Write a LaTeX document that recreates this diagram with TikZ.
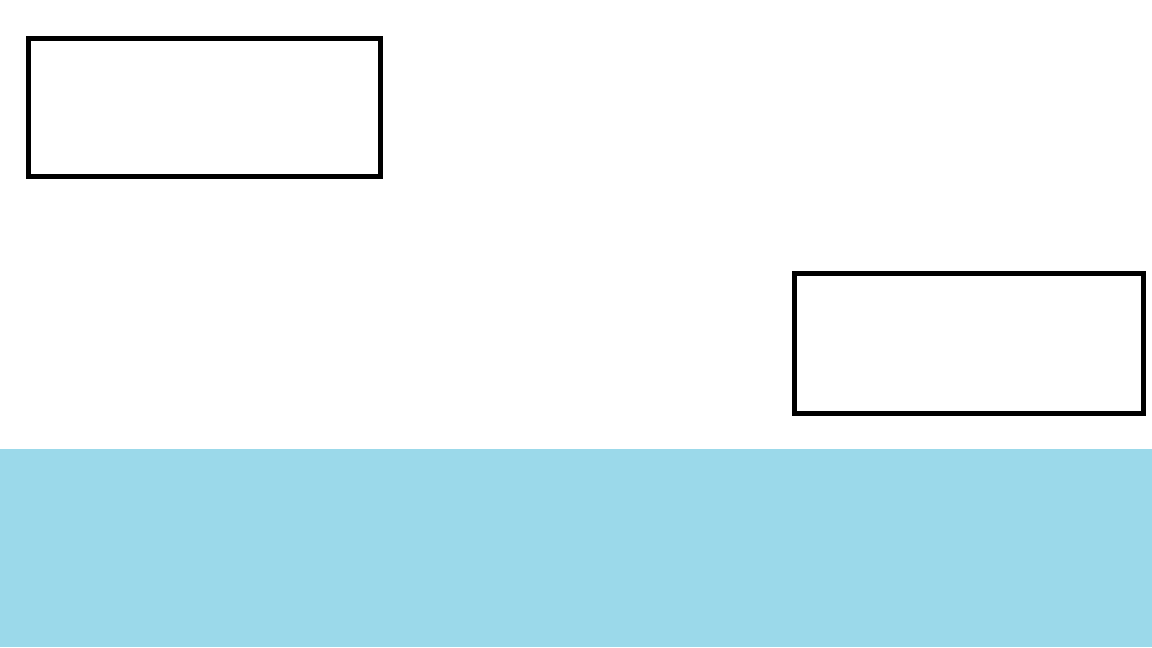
\documentclass[tikz,border=0pt]{standalone}
\usepackage[HTML]{xcolor}
\usepackage{tikz}
\usetikzlibrary{positioning}

\definecolor{bandblue}{HTML}{9BD9EA}

\begin{document}
\begin{tikzpicture}[
    x=0.025cm, y=-0.025cm, % one unit is one pixel of the reference
    every node/.style={inner sep=0pt, outer sep=0pt},
    panel/.style={draw=black, line width=3.4pt, fill=white, rectangle}
]
    % 1. Canvas
    \useasboundingbox (0,0) rectangle (1152,648);

    % 2. The two boxes
    \node[panel, minimum width=8.8cm, minimum height=3.45cm] (TopBox) at (204.5,107.5) {};
    \node[panel, minimum width=8.72cm, minimum height=3.49cm] (RightBox) at (969,343.3) {};

    % 3. Blue band along the bottom
    \node[fill=bandblue, minimum width=28.8cm, minimum height=4.95cm] (Band) at (576,548) {};

\end{tikzpicture}
\end{document}
